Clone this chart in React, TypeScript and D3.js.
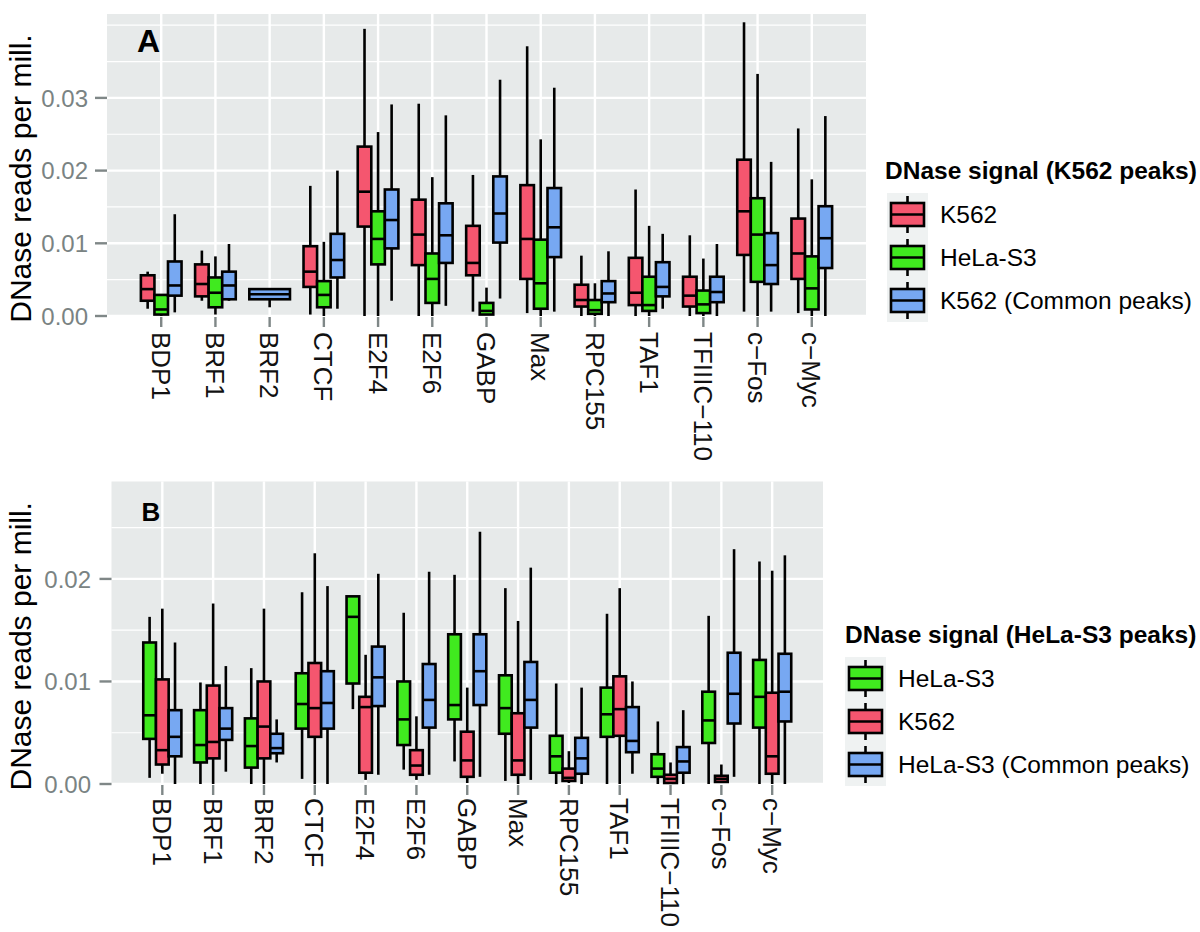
import React from 'react';
import * as d3 from 'd3';

// factor names on the x axis (same for both panels)
const factors = ['BDP1', 'BRF1', 'BRF2', 'CTCF', 'E2F4', 'E2F6', 'GABP', 'Max', 'RPC155', 'TAF1', 'TFIIIC\u2212110', 'c\u2212Fos', 'c\u2212Myc'];

// box stats per factor: [lower whisker, q1, median, q3, upper whisker]
type Stat = [number, number, number, number, number] | null;

// Panel A: K562 peaks
const aK562: Stat[] = [
  [0.0010, 0.0021, 0.0037, 0.0056, 0.0061],
  [0.0021, 0.0027, 0.0044, 0.0071, 0.0090],
  null,
  [0.0002, 0.0040, 0.0061, 0.0096, 0.0179],
  [0.0, 0.0123, 0.0171, 0.0233, 0.0395],
  [0.0, 0.0070, 0.0112, 0.0160, 0.0292],
  [0.0006, 0.0056, 0.0073, 0.0124, 0.0194],
  [0.0004, 0.0051, 0.0106, 0.0180, 0.0371],
  [0.0, 0.0013, 0.0022, 0.0043, 0.0083],
  [0.0, 0.0015, 0.0032, 0.0080, 0.0174],
  [0.0, 0.0013, 0.0028, 0.0054, 0.0111],
  [0.0006, 0.0084, 0.0144, 0.0215, 0.0404],
  [0.0004, 0.0051, 0.0086, 0.0134, 0.0258],
];
const aHeLa: Stat[] = [
  [0.0, 0.0002, 0.0009, 0.0029, 0.0030],
  [0.0002, 0.0012, 0.0032, 0.0053, 0.0082],
  null,
  [0.0, 0.0012, 0.0029, 0.0048, 0.0102],
  [0.0, 0.0071, 0.0106, 0.0144, 0.0253],
  [0.0, 0.0018, 0.0051, 0.0086, 0.0191],
  [0.0002, 0.0002, 0.0007, 0.0018, 0.0039],
  [0.0, 0.0010, 0.0045, 0.0105, 0.0243],
  [0.0, 0.0003, 0.0008, 0.0022, 0.0045],
  [0.0, 0.0007, 0.0015, 0.0054, 0.0124],
  [0.0, 0.0004, 0.0016, 0.0035, 0.0079],
  [0.0, 0.0047, 0.0112, 0.0162, 0.0333],
  [0.0, 0.0009, 0.0038, 0.0082, 0.0188],
];
const aCommon: Stat[] = [
  [0.0005, 0.0028, 0.0042, 0.0075, 0.0140],
  [0.0021, 0.0023, 0.0042, 0.0061, 0.0099],
  [0.0012, 0.0023, 0.0030, 0.0037, 0.0037],
  [0.0010, 0.0053, 0.0077, 0.0113, 0.0200],
  [0.0021, 0.0093, 0.0132, 0.0174, 0.0291],
  [0.0014, 0.0073, 0.0111, 0.0155, 0.0276],
  [0.0024, 0.0101, 0.0141, 0.0192, 0.0325],
  [0.0006, 0.0081, 0.0122, 0.0176, 0.0314],
  [0.0, 0.0019, 0.0031, 0.0048, 0.0089],
  [0.0010, 0.0027, 0.0040, 0.0074, 0.0113],
  [0.0, 0.0019, 0.0033, 0.0054, 0.0099],
  [0.0006, 0.0044, 0.0070, 0.0114, 0.0212],
  [0.0, 0.0066, 0.0107, 0.0151, 0.0275],
];

// Panel B: HeLa-S3 peaks
const bHeLa: Stat[] = [
  [0.0006, 0.0044, 0.0067, 0.0138, 0.0163],
  [0.0, 0.0021, 0.0038, 0.0072, 0.0099],
  [0.0, 0.0016, 0.0037, 0.0064, 0.0113],
  [0.0005, 0.0054, 0.0078, 0.0108, 0.0187],
  [0.0073, 0.0098, 0.0163, 0.0183, 0.0183],
  [0.0014, 0.0038, 0.0063, 0.0100, 0.0167],
  [0.0022, 0.0063, 0.0077, 0.0146, 0.0204],
  [0.0003, 0.0049, 0.0074, 0.0106, 0.0191],
  [0.0, 0.0011, 0.0027, 0.0047, 0.0098],
  [0.0, 0.0046, 0.0068, 0.0094, 0.0166],
  [0.0, 0.0007, 0.0015, 0.0029, 0.0061],
  [0.0, 0.0040, 0.0062, 0.0090, 0.0164],
  [0.0, 0.0055, 0.0085, 0.0121, 0.0217],
];
const bK562: Stat[] = [
  [0.0010, 0.0019, 0.0033, 0.0102, 0.0171],
  [0.0, 0.0025, 0.0041, 0.0096, 0.0176],
  [0.0, 0.0025, 0.0056, 0.0100, 0.0171],
  [0.0, 0.0046, 0.0074, 0.0118, 0.0225],
  [0.0004, 0.0011, 0.0075, 0.0085, 0.0126],
  [0.0004, 0.0009, 0.0018, 0.0033, 0.0066],
  [0.0001, 0.0007, 0.0023, 0.0051, 0.0094],
  [0.0, 0.0009, 0.0023, 0.0069, 0.0159],
  [0.0001, 0.0003, 0.0006, 0.0015, 0.0032],
  [0.0, 0.0047, 0.0073, 0.0105, 0.0191],
  [0.0, 0.0001, 0.0005, 0.0009, 0.0021],
  [0.0001, 0.0002, 0.0005, 0.0008, 0.0019],
  [0.0, 0.0010, 0.0027, 0.0089, 0.0208],
];
const bCommon: Stat[] = [
  [0.0, 0.0027, 0.0046, 0.0072, 0.0138],
  [0.0012, 0.0043, 0.0054, 0.0074, 0.0115],
  [0.0021, 0.0030, 0.0035, 0.0049, 0.0063],
  [0.0, 0.0054, 0.0079, 0.0110, 0.0193],
  [0.0009, 0.0076, 0.0104, 0.0134, 0.0205],
  [0.0009, 0.0055, 0.0082, 0.0117, 0.0207],
  [0.0007, 0.0077, 0.0110, 0.0146, 0.0246],
  [0.0004, 0.0055, 0.0082, 0.0119, 0.0211],
  [0.0, 0.0010, 0.0025, 0.0045, 0.0094],
  [0.0010, 0.0031, 0.0042, 0.0075, 0.0100],
  [0.0, 0.0011, 0.0022, 0.0036, 0.0072],
  [0.0007, 0.0059, 0.0088, 0.0128, 0.0229],
  [0.0, 0.0061, 0.0090, 0.0127, 0.0223],
];

const yTicksA = [0, 0.01, 0.02, 0.03];
const yMinorA = [0.005, 0.015, 0.025, 0.035, 0.04];
const yTicksB = [0, 0.01, 0.02];
const yMinorB = [0.005, 0.015, 0.025];

const RED = '#F5566F';
const GREEN = '#40EA1F';
const BLUE = '#77A8F2';

const FONT = '"Liberation Sans", Arial, Helvetica, sans-serif';
const LW = 2.6;

type Series = { name: string; color: string; data: Stat[] };

const Panel = ({ label, labelSize, left, right, top, bottom, yMax, ticks, minor, series, tickLabelX, titleY, legendTitle, legendX, legendTitleX, xLabelY }: any) => {
  const x = d3.scalePoint<string>().domain(factors).range([left, right]).padding(1);
  const y = d3.scaleLinear().domain([0, yMax]).range([bottom - 1, top]);
  const step = x.step();
  const fmt = d3.format('.2f');

  const boxes: any[] = [];
  factors.forEach((f, i) => {
    const present = (series as Series[]).filter(s => s.data[i]);
    const n = present.length;
    const total = step * 0.75;
    const w = total / n;
    present.forEach((s, j) => {
      const [lo, q1, med, q3, hi] = s.data[i] as number[];
      const cx = (x(f) as number) - total / 2 + w * (j + 0.5);
      boxes.push(
        <g key={f + s.name}>
          <line x1={cx} x2={cx} y1={y(hi)} y2={y(q3)} stroke="#000" strokeWidth={LW} />
          <line x1={cx} x2={cx} y1={y(q1)} y2={y(lo)} stroke="#000" strokeWidth={LW} />
          <rect x={cx - w / 2} y={y(q3)} width={w} height={Math.max(0.5, y(q1) - y(q3))} fill={s.color} stroke="#000" strokeWidth={LW} />
          <line x1={cx - w / 2} x2={cx + w / 2} y1={y(med)} y2={y(med)} stroke="#000" strokeWidth={LW} />
        </g>
      );
    });
  });

  const keyTop = titleY + 14;
  return (
    <g>
      <rect x={left} y={top} width={right - left} height={bottom - top} fill="#E7EAEA" />
      {minor.map((v: number) => (
        <line key={'mi' + v} x1={left} x2={right} y1={y(v)} y2={y(v)} stroke="#fff" strokeWidth={1.2} />
      ))}
      {ticks.map((v: number) => (
        <line key={'ma' + v} x1={left} x2={right} y1={y(v)} y2={y(v)} stroke="#fff" strokeWidth={2.4} />
      ))}
      {factors.map(f => (
        <line key={'vx' + f} x1={x(f)} x2={x(f)} y1={top} y2={bottom} stroke="#fff" strokeWidth={2.4} />
      ))}
      {boxes}
      <text x={left + 30} y={top + (labelSize === 32 ? 38 : 39)} fontFamily={FONT} fontWeight="bold" fontSize={labelSize}>{label}</text>
      {/* y axis */}
      {ticks.map((v: number) => (
        <g key={'yt' + v}>
          <line x1={left - 12} x2={left} y1={y(v)} y2={y(v)} stroke="#7F8787" strokeWidth={2.4} />
          <text x={tickLabelX} y={y(v)} dy="0.36em" textAnchor="end" fontFamily={FONT} fontSize={24} fill="#7A8383">{fmt(v)}</text>
        </g>
      ))}
      {/* x axis */}
      {factors.map(f => (
        <g key={'xt' + f}>
          <line x1={x(f)} x2={x(f)} y1={bottom} y2={bottom + 10} stroke="#7F8787" strokeWidth={2.4} />
          <text transform={`translate(${x(f)},${xLabelY}) rotate(90)`} dy="0.36em" fontFamily={FONT} fontSize={26} fill="#111">{f}</text>
        </g>
      ))}
      <text transform={`translate(31,${(top + bottom) / 2 + 13}) rotate(-90)`} textAnchor="middle" fontFamily={FONT} fontSize={30} fill="#000">DNase reads per mill.</text>
      {/* legend */}
      <text x={legendTitleX} y={titleY} fontFamily={FONT} fontWeight="bold" fontSize={24.5}>{legendTitle}</text>
      {(series as Series[]).map((s, i) => {
        const ky = keyTop + i * 43;
        const kx = legendX;
        return (
          <g key={'lg' + s.name}>
            <rect x={kx} y={ky} width={41} height={43} fill="#EFF2F2" />
            <line x1={kx + 20.5} x2={kx + 20.5} y1={ky + 3} y2={ky + 40} stroke="#000" strokeWidth={LW} />
            <rect x={kx + 4} y={ky + 10} width={33} height={23} fill={s.color} stroke="#000" strokeWidth={LW} />
            <line x1={kx + 4} x2={kx + 37} y1={ky + 21.5} y2={ky + 21.5} stroke="#000" strokeWidth={LW} />
            <text x={kx + 53} y={ky + 21.5} dy="0.36em" fontFamily={FONT} fontSize={24.5}>{s.name}</text>
          </g>
        );
      })}
    </g>
  );
};

const App = () => {
  const seriesA: Series[] = [
    { name: 'K562', color: RED, data: aK562 },
    { name: 'HeLa-S3', color: GREEN, data: aHeLa },
    { name: 'K562 (Common peaks)', color: BLUE, data: aCommon },
  ];
  const seriesB: Series[] = [
    { name: 'HeLa-S3', color: GREEN, data: bHeLa },
    { name: 'K562', color: RED, data: bK562 },
    { name: 'HeLa-S3 (Common peaks)', color: BLUE, data: bCommon },
  ];
  return (
    <svg width={1200} height={932} style={{ position: 'absolute', left: 0, top: 0, background: '#fff' }}>
      <Panel label="A" labelSize={32} left={107} right={866} top={14} bottom={317} yMax={0.04154}
        ticks={yTicksA} minor={yMinorA} series={seriesA} tickLabelX={88} titleY={179}
        legendTitle="DNase signal (K562 peaks)" legendX={887} legendTitleX={885} xLabelY={332} />
      <Panel label="B" labelSize={26} left={111.5} right={823} top={481.5} bottom={785} yMax={0.0295}
        ticks={yTicksB} minor={yMinorB} series={seriesB} tickLabelX={91} titleY={643}
        legendTitle="DNase signal (HeLa-S3 peaks)" legendX={845} legendTitleX={845} xLabelY={798} />
    </svg>
  );
};

export default App;
